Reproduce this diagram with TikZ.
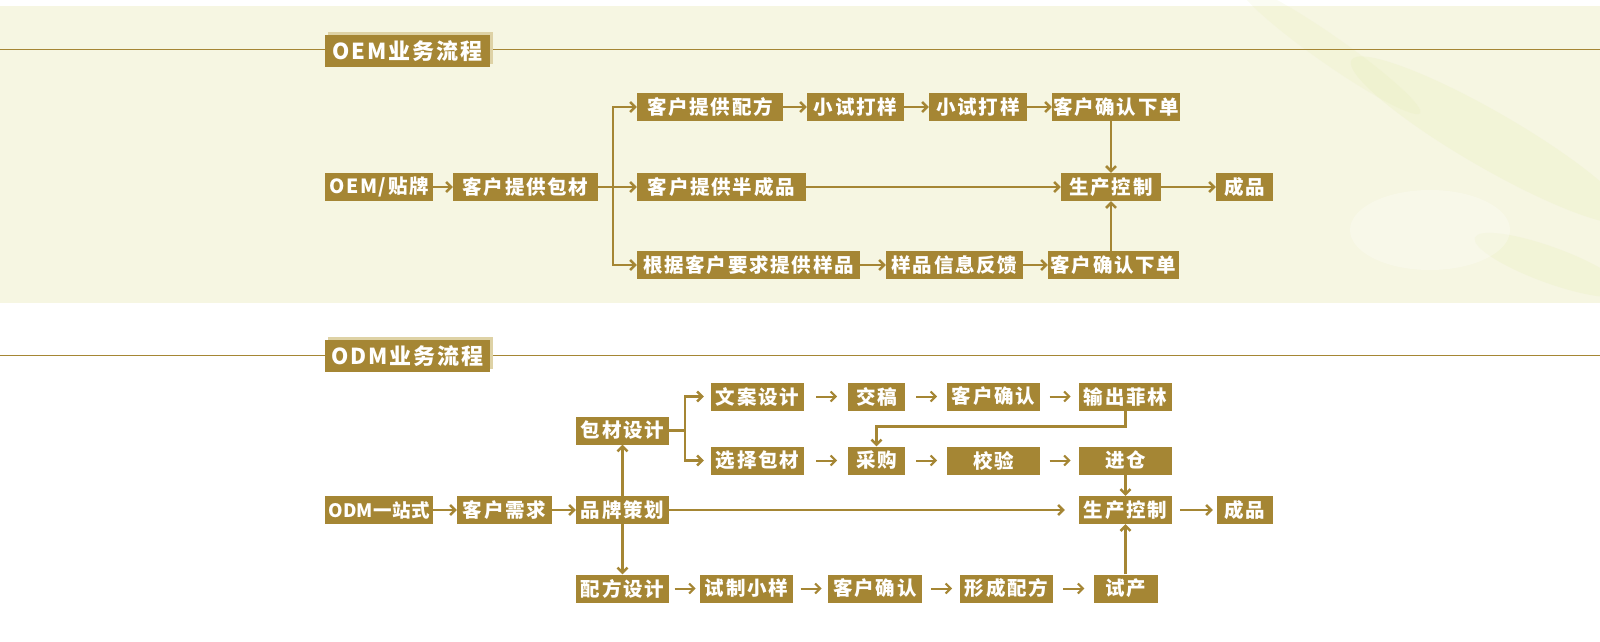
\documentclass[tikz,border=0pt]{standalone}
\usepackage{fontspec}
\newfontfamily\cjk[LetterSpace=9]{Noto Sans CJK SC}
\newfontfamily\cjktight[LetterSpace=2]{Noto Sans CJK SC}
\usetikzlibrary{arrows.meta,calc,shadows}
\definecolor{gold}{RGB}{165,134,52}
\definecolor{goldshade}{RGB}{222,210,165}
\definecolor{paper}{RGB}{246,246,226}
\definecolor{leaf}{RGB}{226,236,168}
\tikzset{
  box/.style={fill=gold, text=white, inner sep=0pt, minimum height=28pt,
    font=\cjk\bfseries\fontsize{19.5}{19.5}\selectfont},
  badge/.style={box, minimum width=165pt, minimum height=32pt,
    font=\cjk\bfseries\fontsize{22}{22}\selectfont,
    drop shadow={shadow xshift=3pt, shadow yshift=3pt, fill=goldshade, opacity=1}},
  link/.style={draw=gold, line width=2.5pt, -{Straight Barb[length=5pt,width=10pt]}},
  gap/.style={link, line width=2pt},
  rule/.style={draw=gold, line width=1pt}
}
\begin{document}
\begin{tikzpicture}[x=1pt,y=-1pt]
  \useasboundingbox (0,0) rectangle (1600,642);
  % paper band behind the OEM part
  \fill[paper] (0,6) rectangle (1600,303);
  \fill[leaf, opacity=.18, rotate around={-30:(1490,140)}] (1490,140) ellipse (160pt and 28pt);
  \fill[leaf, opacity=.18, rotate around={-20:(1550,265)}] (1550,265) ellipse (80pt and 18pt);
  \fill[leaf, opacity=.14, rotate around={-35:(1330,50)}] (1330,50) ellipse (110pt and 14pt);
  \fill[white, opacity=.25] (1430,230) ellipse (80pt and 40pt);
  \draw[rule] (0,50) -- (1600,50);
  \draw[rule] (0,355) -- (1600,355);

  % OEM
  \node[badge] (oemt) at (407.5,51) {OEM业务流程};
  \node[box, minimum width=108pt] (oem) at (379,187) {OEM/贴牌};
  \node[box, minimum width=145pt] (pkg) at (525.5,187) {客户提供包材};
  \node[box, minimum width=146pt] (recipe) at (710,107) {客户提供配方};
  \node[box, minimum width=169pt] (semi) at (721.5,187) {客户提供半成品};
  \node[box, minimum width=223pt] (sample) at (748.5,265) {根据客户要求提供样品};
  \node[box, minimum width=97pt] (try1) at (855.5,107) {小试打样};
  \node[box, minimum width=98pt] (try2) at (978,107) {小试打样};
  \node[box, minimum width=128pt] (confirm1) at (1116,107) {客户确认下单};
  \node[box, minimum width=100pt] (prod1) at (1111,187) {生产控制};
  \node[box, minimum width=57pt] (done1) at (1244.5,187) {成品};
  \node[box, minimum width=137pt] (feedback) at (954.5,265) {样品信息反馈};
  \node[box, minimum width=131pt] (confirm2) at (1113.5,265) {客户确认下单};
  \coordinate (fork1) at (613,187);
  \draw[link] (fork1) |- (recipe);
  \draw[link] (fork1) |- (sample);
  \foreach \a/\b in {oem/pkg, pkg/semi, recipe/try1, try1/try2, try2/confirm1,
                     semi/prod1, prod1/done1, sample/feedback, feedback/confirm2}
    \draw[link] (\a) -- (\b);
  \draw[link] (confirm1.south -| prod1.north) -- (prod1.north);
  \draw[link] (confirm2.north -| prod1.south) -- (prod1.south);

  % ODM
  \node[badge] (odmt) at (407.5,356) {ODM业务流程};
  \node[box, minimum width=108pt, font=\cjktight\bfseries\fontsize{18.5}{18.5}\selectfont] (odm) at (379,510) {ODM一站式};
  \node[box, minimum width=95pt] (need) at (504.5,510) {客户需求};
  \node[box, minimum width=93pt] (brand) at (622.5,510) {品牌策划};
  \node[box, minimum width=93pt] (packd) at (622.5,430.5) {包材设计};
  \node[box, minimum width=93pt] (formula) at (622.5,588.5) {配方设计};
  \node[box, minimum width=93pt] (copy) at (757.5,396.5) {文案设计};
  \node[box, minimum width=57pt] (draft) at (876.5,396.5) {交稿};
  \node[box, minimum width=93pt] (ok1) at (993.5,396.5) {客户确认};
  \node[box, minimum width=93pt] (film) at (1125.5,396.5) {输出菲林};
  \node[box, minimum width=93pt] (choose) at (757.5,460.5) {选择包材};
  \node[box, minimum width=57pt] (buy) at (876.5,460.5) {采购};
  \node[box, minimum width=93pt] (check) at (993.5,460.5) {校验};
  \node[box, minimum width=93pt] (store) at (1125.5,460.5) {进仓};
  \node[box, minimum width=93pt] (prod2) at (1125.5,510) {生产控制};
  \node[box, minimum width=56pt] (done2) at (1245,510) {成品};
  \node[box, minimum width=93pt] (sample2) at (746.5,588.5) {试制小样};
  \node[box, minimum width=94pt] (ok2) at (875,588.5) {客户确认};
  \node[box, minimum width=93pt] (form) at (1006.5,588.5) {形成配方};
  \node[box, minimum width=64pt] (trial) at (1125.5,588.5) {试产};
  \coordinate (fork2) at (685,430.5);
  \draw[link,-] (packd) -- (fork2);
  \draw[link, shorten >=7pt] (fork2) |- (copy);
  \draw[link, shorten >=7pt] (fork2) |- (choose);
  \draw[link] (odm) -- (need);
  \draw[link] (need) -- (brand);
  \draw[link] (brand) -- (packd);
  \draw[link] (brand) -- (formula);
  \draw[link, shorten >=14pt] (brand) -- (prod2);
  \draw[link, shorten <=8pt, shorten >=4pt] (prod2) -- (done2);
  \draw[link] (store) -- (prod2);
  \draw[link] (trial) -- (prod2);
  \draw[link] (film.south) -- ++(0,16) -| (buy.north);
  \foreach \a/\b in {copy/draft, draft/ok1, ok1/film, choose/buy, buy/check, check/store,
                     formula/sample2, sample2/ok2, ok2/form, form/trial}
    \draw[gap] ($(\a.east)!.5!(\b.west)+(-10,0)$) -- ++(21,0);
\end{tikzpicture}
\end{document}
